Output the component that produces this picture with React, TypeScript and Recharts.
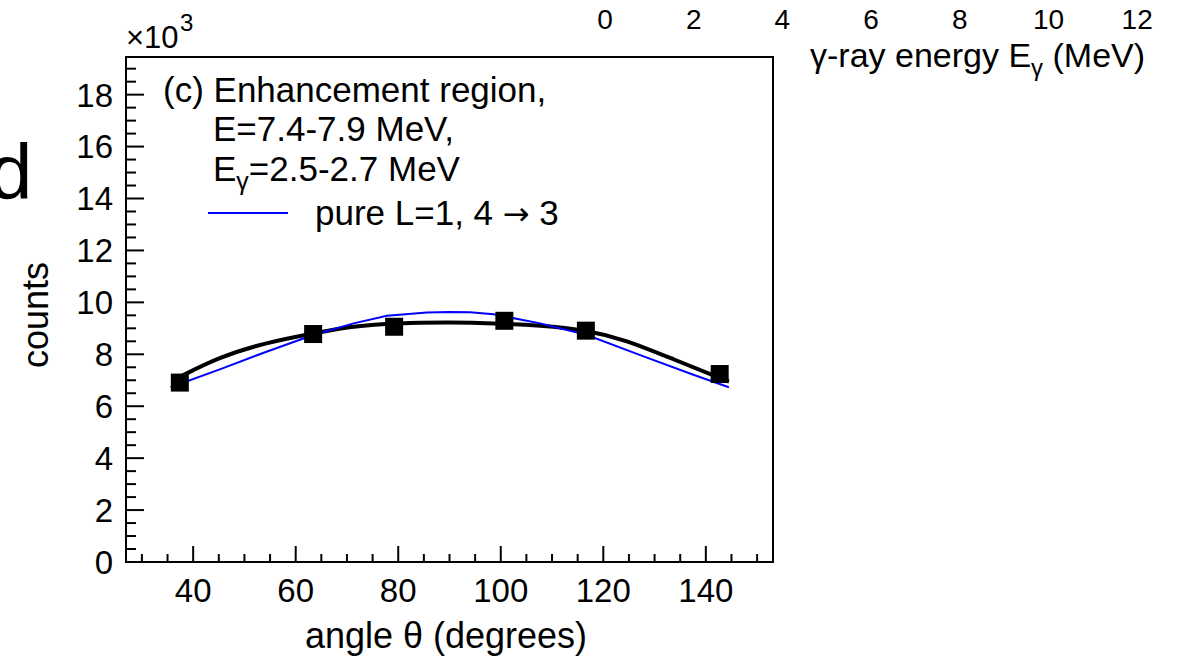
import React from 'react';
import {
  ComposedChart,
  Line,
  Scatter,
  XAxis,
  YAxis,
  ReferenceArea,
} from 'recharts';

// measured points (counts in units of 10^3)
const angles = [37.4, 63.4, 79.2, 100.7, 116.6, 142.7];
const counts = [6.91, 8.78, 9.06, 9.29, 8.91, 7.24];

// black fit curve
const fitAngles = [35.8, 38.1, 45.2, 54.3, 63.4, 71.3, 80.0, 90.1, 98.6, 107.7, 116.6, 124.6, 133.8, 144.5];
const fitCounts = [6.98, 7.2, 7.85, 8.42, 8.8, 9.06, 9.19, 9.22, 9.19, 9.1, 8.9, 8.5, 7.8, 6.95];

// blue "pure L=1, 4 -> 3" curve
const pureAngles = [35.6, 45.2, 54.3, 63.4, 71.3, 77.8, 85.6, 90.0, 94.0, 98.6, 107.7, 116.8, 127.2, 137.7, 144.5];
const pureCounts = [6.73, 7.42, 8.1, 8.74, 9.19, 9.48, 9.61, 9.63, 9.62, 9.54, 9.19, 8.74, 7.97, 7.2, 6.73];

const xMajor = [40, 60, 80, 100, 120, 140];
const xTicks = [30, 35, 40, 45, 50, 55, 60, 65, 70, 75, 80, 85, 90, 95, 100, 105, 110, 115, 120, 125, 130, 135, 140, 145, 150];
const yMajor = [0, 2, 4, 6, 8, 10, 12, 14, 16, 18];
const yTicks = [0, 0.5, 1, 1.5, 2, 2.5, 3, 3.5, 4, 4.5, 5, 5.5, 6, 6.5, 7, 7.5, 8, 8.5, 9, 9.5, 10, 10.5, 11, 11.5, 12, 12.5, 13, 13.5, 14, 14.5, 15, 15.5, 16, 16.5, 17, 17.5, 18, 18.5, 19];

// leftover axis of the neighbouring panel
const topTickLabels = ['0', '2', '4', '6', '8', '10', '12'];

const xDomain = [26.9, 153.1];
const yDomain = [0, 19.45];

const FONT = '"Liberation Sans", Arial, Helvetica, sans-serif';

const points = angles.map((x, i) => ({ x, y: counts[i] }));
const fitData = fitAngles.map((x, i) => ({ x, y: fitCounts[i] }));
const pureData = pureAngles.map((x, i) => ({ x, y: pureCounts[i] }));

const YTick = (props: any) => {
  const { x, y, payload } = props;
  const major = yMajor.includes(payload.value);
  return (
    <g>
      <line x1={x} x2={x + (major ? 18 : 10)} y1={y} y2={y} stroke="#000" strokeWidth={2} />
      {major && (
        <text x={x - 13} y={y} dy="0.36em" textAnchor="end" fontSize={33} fontFamily={FONT} fill="#000">
          {payload.value}
        </text>
      )}
    </g>
  );
};

const XTick = (props: any) => {
  const { x, y, payload } = props;
  const major = xMajor.includes(payload.value);
  return (
    <g>
      <line x1={x} x2={x} y1={y} y2={y - (major ? 16 : 8)} stroke="#000" strokeWidth={2} />
      {major && (
        <text x={x} y={y + 40} textAnchor="middle" fontSize={33} fontFamily={FONT} fill="#000">
          {payload.value}
        </text>
      )}
    </g>
  );
};

const Square = (props: any) => {
  const { cx, cy } = props;
  return <rect x={cx - 9} y={cy - 9} width={18} height={18} fill="#000" />;
};

export default function App() {
  return (
    <div style={{ position: 'absolute', left: 0, top: 0, width: 1191, height: 663, background: '#fff', fontFamily: FONT }}>
      <ComposedChart width={1191} height={663} margin={{ top: 57, right: 418, bottom: 61, left: 66 }}>
        <XAxis
          type="number"
          dataKey="x"
          domain={xDomain}
          allowDataOverflow
          ticks={xTicks}
          interval={0}
          tick={<XTick />}
          tickLine={false}
          tickSize={0}
          tickMargin={0}
          height={40}
          axisLine={{ stroke: '#000', strokeWidth: 2 }}
        />
        <YAxis
          type="number"
          domain={yDomain}
          allowDataOverflow
          ticks={yTicks}
          interval={0}
          tick={<YTick />}
          tickLine={false}
          tickSize={0}
          tickMargin={0}
          width={60}
          axisLine={{ stroke: '#000', strokeWidth: 2 }}
        />
        <ReferenceArea x1={xDomain[0]} x2={xDomain[1]} y1={yDomain[0]} y2={yDomain[1]} fill="none" stroke="#000" strokeWidth={2} />
        <Line data={fitData} dataKey="y" type="natural" stroke="#000" strokeWidth={4} dot={false} isAnimationActive={false} />
        <Scatter data={points} dataKey="y" shape={<Square />} isAnimationActive={false} />
        <Line data={pureData} dataKey="y" type="linear" stroke="#0000ff" strokeWidth={2} dot={false} isAnimationActive={false} />
      </ComposedChart>

      <svg width={1191} height={663} style={{ position: 'absolute', left: 0, top: 0, pointerEvents: 'none' }} fontFamily={FONT} fill="#000">
        <text x={-11} y={199} fontSize={78}>d</text>
        <text x={126} y={48} fontSize={31}>×10</text>
        <text x={180} y={31} fontSize={24}>3</text>

        {topTickLabels.map((t, i) => (
          <text key={t} x={605 + i * 88.7} y={29} fontSize={28} textAnchor="middle">{t}</text>
        ))}
        <text x={810} y={67} fontSize={34}>
          γ-ray energy E<tspan fontSize={24} dy={9}>γ</tspan>
          <tspan dy={-9}> (MeV)</tspan>
        </text>

        <text x={163} y={102} fontSize={35}>(c) Enhancement region,</text>
        <text x={213} y={141} fontSize={35}>E=7.4-7.9 MeV,</text>
        <text x={213} y={181} fontSize={35}>
          E<tspan fontSize={25} dy={9}>γ</tspan>
          <tspan dy={-9}>=2.5-2.7 MeV</tspan>
        </text>
        <line x1={208} x2={288} y1={213} y2={213} stroke="#0000ff" strokeWidth={2} />
        <text x={315} y={225} fontSize={35}>
          pure L=1, 4 <tspan fontFamily='"DejaVu Sans", sans-serif' fontSize={32}>→</tspan> 3
        </text>

        <text x={35} y={315} fontSize={36} textAnchor="middle" dominantBaseline="central" transform="rotate(-90 35 315)">counts</text>
        <text x={446} y={648} fontSize={36} textAnchor="middle">angle θ (degrees)</text>
      </svg>
    </div>
  );
}
